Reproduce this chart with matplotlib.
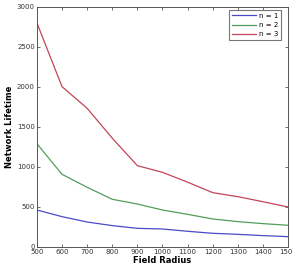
import matplotlib
matplotlib.use('Agg')
import matplotlib.pyplot as plt

radius = [500, 600, 700, 800, 900, 1000, 1100, 1200, 1300, 1400, 1500]
life_n1 = [462, 379, 312, 267, 233, 225, 196, 171, 158, 142, 129]
life_n2 = [1290, 908, 746, 596, 537, 462, 408, 350, 317, 292, 271]
life_n3 = [2800, 2004, 1733, 1360, 1016, 933, 810, 679, 629, 566, 500]

plt.rcParams['font.family'] = ['DejaVu Sans']
fig = plt.figure(figsize=(2.93, 2.67), dpi=100)
ax = fig.add_axes([0.126, 0.075, 0.857, 0.899])

ax.plot(radius, life_n1, color='#4b4bc8', linewidth=0.9, label='n = 1')
ax.plot(radius, life_n2, color='#4f9f5a', linewidth=0.9, label='n = 2')
ax.plot(radius, life_n3, color='#c2455a', linewidth=0.9, label='n = 3')

ax.set_xlim(500, 1500)
ax.set_ylim(0, 3000)
ax.set_xticks(range(500, 1501, 100))
ax.set_yticks(range(0, 3001, 500))
ax.tick_params(direction='in', length=2.5, width=0.5, labelsize=5, pad=1.5,
               top=True, right=True, colors='#333333')
for s in ax.spines.values():
    s.set_linewidth(0.7)
    s.set_color('#555555')

ax.set_xlabel('Field Radius', fontsize=6, fontweight='bold', labelpad=0.5)
ax.set_ylabel('Network Lifetime', fontsize=6, fontweight='bold', labelpad=2)

leg = ax.legend(loc='upper right', fontsize=5, frameon=True, fancybox=False,
                handlelength=3.4, handletextpad=0.5, borderpad=0.4,
                labelspacing=0.45, borderaxespad=0.45,
                bbox_to_anchor=(0.985, 1.0))
leg.get_frame().set_edgecolor('#555555')
leg.get_frame().set_linewidth(0.8)

fig.savefig('out.png', dpi=100)
